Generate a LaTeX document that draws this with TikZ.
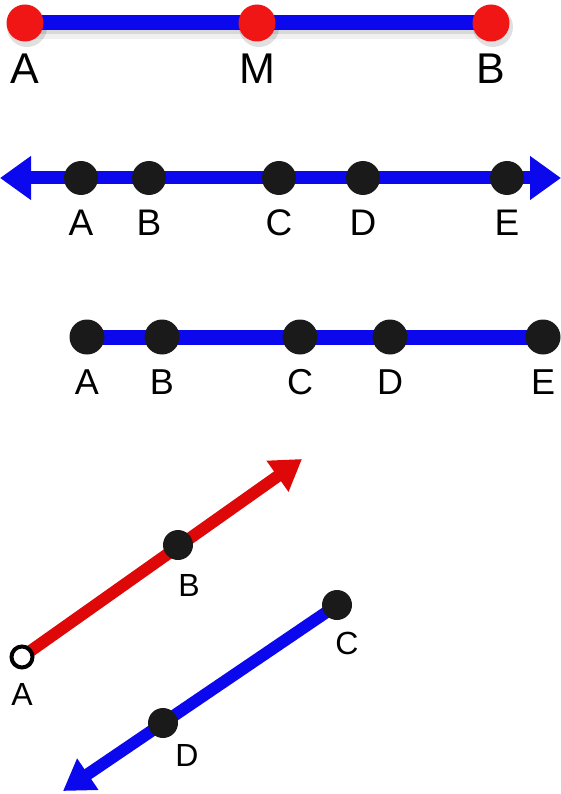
\documentclass[tikz,border=0pt]{standalone}
\usepackage{fontspec}
\setmainfont{Liberation Sans}
\usetikzlibrary{arrows.meta}
\definecolor{lineblue}{RGB}{12,8,238}
\definecolor{dotred}{RGB}{240,22,22}
\definecolor{rayred}{RGB}{222,8,8}
\definecolor{dotblack}{RGB}{26,26,26}
\tikzset{
	bigdot/.style={circle, fill=dotblack, inner sep=0pt, minimum size=#1},
	reddot/.style={circle, fill=dotred, inner sep=0pt, minimum size=37pt},
	opendot/.style={circle, draw=black, line width=4pt, fill=white, inner sep=0pt, minimum size=21pt},
	lab/.style={inner sep=0pt, font=\fontsize{#1}{#1}\selectfont},
	bluebar/.style={draw=lineblue, line width=#1},
	linehead/.tip={Triangle[length=31pt, width=42pt]},
	rayhead/.tip={Triangle[length=30pt, width=36pt]}
}
\begin{document}
\begin{tikzpicture}[x=1pt, y=-1pt]
	\useasboundingbox (0,0) rectangle (561,794);
	% segment AB with midpoint M
	\coordinate (tA) at (25,23);
	\coordinate (tM) at (257,23);
	\coordinate (tB) at (491,23);
	\draw[line width=20pt, black, opacity=.06] ([shift={(2,6)}]tA) -- ([shift={(2,6)}]tB);
	\draw[line width=12pt, black, opacity=.10] ([shift={(2,5)}]tA) -- ([shift={(2,5)}]tB);
	\foreach \n in {tA,tM,tB}
		\fill[black, opacity=.12] ([shift={(2,4)}]\n) circle (20);
	\draw[bluebar=15pt] (tA) -- (tB);
	\foreach \n/\t in {tA/A,tM/M,tB/B}{
		\node[reddot] (d\n) at (\n) {};
		\node[lab=43pt] (l\n) at ([yshift=-46]\n) {\t};
	}
	% line through A, B, C, D, E
	\coordinate (lineL) at (0,178);
	\coordinate (lineR) at (561,178);
	\draw[bluebar=13pt, {linehead}-{linehead}] (lineL) -- (lineR);
	\foreach \t/\x in {A/81,B/149,C/279,D/363,E/507}{
		\node[bigdot=34pt] (m\t) at (\x,178) {};
		\node[lab=37pt] (ml\t) at (\x,223) {\t};
	}
	% segment from A to E
	\coordinate (sA) at (87,337);
	\coordinate (sE) at (543,337);
	\draw[bluebar=15pt] (sA) -- (sE);
	\foreach \t/\x in {A/87,B/162,C/300,D/390,E/543}{
		\node[bigdot=35pt] (s\t) at (\x,337) {};
		\node[lab=36pt] (sl\t) at (\x,382) {\t};
	}
	% rays AB and CD
	\coordinate (rA) at (22,657);
	\coordinate (rTip) at (302,459);
	\coordinate (rC) at (337,605);
	\coordinate (rTip2) at (63,791);
	\draw[line width=12pt, rayred, -{rayhead}] (rA) -- (rTip);
	\draw[line width=12pt, lineblue, -{rayhead}] (rC) -- (rTip2);
	\node[opendot] (oA) at (rA) {};
	\node[bigdot=30pt] (oB) at (178,545) {};
	\node[bigdot=30pt] (oC) at (rC) {};
	\node[bigdot=30pt] (oD) at (163,723) {};
	\node[lab=32pt] (olA) at (22,694) {A};
	\node[lab=32pt] (olB) at (189,585) {B};
	\node[lab=32pt] (olC) at (347,643) {C};
	\node[lab=32pt] (olD) at (187,755) {D};
\end{tikzpicture}
\end{document}
